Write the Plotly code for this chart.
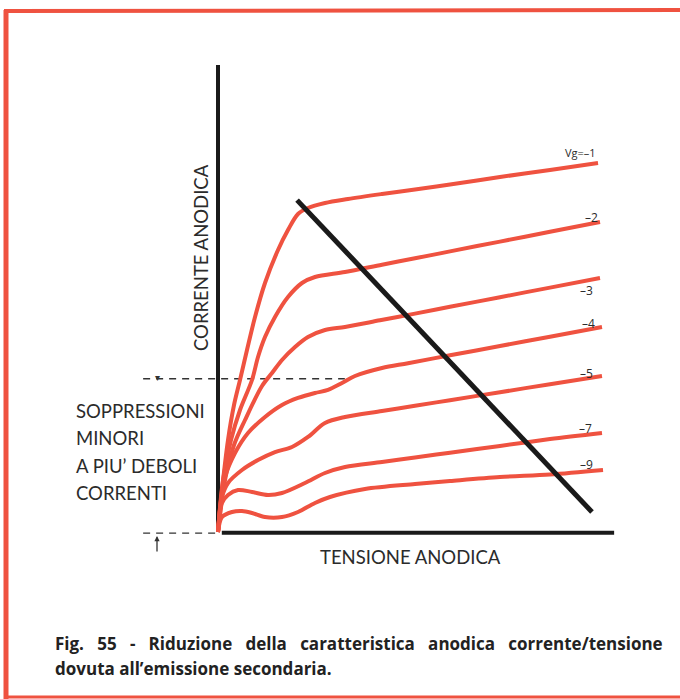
import plotly.graph_objects as go

# ---- data (anode voltage in % of full scale, anode current in arbitrary units) ----
vg_labels = ["Vg=–1", "–2", "–3", "–4", "–5", "–7", "–9"]

v_m1 = [0, 1.05, 2.62, 4.19, 5.76, 7.59, 9.69, 12.30, 15.71, 18.32, 20.94, 23.56, 28.01, 34.03, 42.93, 51.57, 60.73, 73.82, 86.91, 99.48]
i_m1 = [0, 11.35, 24.86, 34.32, 41.08, 49.19, 58.11, 67.30, 76.22, 81.62, 85.95, 87.57, 88.92, 90.0, 91.35, 92.57, 93.92, 95.95, 97.84, 99.73]

v_m2 = [0, 1.31, 3.40, 5.76, 8.90, 10.47, 12.30, 14.92, 18.32, 21.99, 25.39, 33.25, 42.93, 51.57, 60.73, 73.82, 86.91, 100]
i_m2 = [0, 14.05, 24.86, 32.97, 41.08, 47.30, 52.70, 58.11, 63.51, 67.30, 68.92, 70.27, 72.24, 73.97, 75.84, 78.49, 81.14, 83.78]

v_m3 = [0, 1.57, 4.19, 7.07, 11.52, 14.14, 16.75, 20.16, 23.56, 28.01, 33.25, 42.41, 51.57, 60.73, 73.82, 86.91, 100]
i_m3 = [0, 12.70, 23.51, 30.27, 39.46, 42.97, 46.49, 50.0, 52.70, 54.59, 55.41, 57.22, 59.03, 60.86, 63.46, 66.05, 68.65]

v_m4 = [0, 0.79, 1.83, 4.45, 7.85, 12.30, 16.75, 20.94, 25.39, 28.80, 32.46, 35.86, 42.93, 49.74, 60.73, 73.82, 86.91, 100.52]
i_m4 = [0, 8.65, 14.86, 21.35, 26.76, 31.08, 34.32, 36.22, 37.57, 38.38, 40.27, 42.16, 44.32, 45.62, 47.76, 50.27, 52.78, 55.41]

v_m5 = [0, 1.05, 2.62, 6.28, 10.47, 14.92, 19.37, 23.56, 28.01, 33.25, 42.93, 51.57, 60.73, 73.82, 86.91, 100.52]
i_m5 = [0, 9.46, 13.24, 16.76, 19.46, 21.62, 22.97, 25.68, 29.46, 31.08, 32.70, 34.11, 35.62, 37.78, 39.95, 42.16]

v_m7 = [0, 0.52, 1.05, 2.62, 5.24, 8.90, 13.09, 16.75, 22.77, 28.01, 33.25, 42.93, 51.57, 60.73, 73.82, 86.91, 100.52]
i_m7 = [0, 4.59, 7.84, 10.0, 11.35, 10.81, 10.0, 10.54, 13.24, 15.95, 17.57, 18.92, 20.14, 21.43, 23.27, 25.11, 26.76]

v_m9 = [0, 1.05, 3.66, 6.28, 8.90, 12.30, 16.75, 20.94, 25.39, 29.32, 38.48, 51.57, 60.73, 73.82, 86.91, 100.79]
i_m9 = [0, 4.05, 5.41, 5.68, 5.14, 4.05, 4.05, 5.41, 7.84, 9.46, 11.62, 12.97, 13.78, 14.86, 15.54, 16.76]

curves_v = [v_m1, v_m2, v_m3, v_m4, v_m5, v_m7, v_m9]
curves_i = [i_m1, i_m2, i_m3, i_m4, i_m5, i_m7, i_m9]

# load line end points (voltage, current)
load_v = [20.7, 97.9]
load_i = [89.7, 5.4]

# level of the "minor suppression" limit
limit_i = 41.4
limit_v_end = 33.2

RED = "#ef5240"
INK = "#1a1a1a"
TXT = "#2b2b2b"

W, H = 680, 699
# map: px = 218 + 3.82*v ; py = 532 - 3.7*i
XR = [-218 / 3.82, (W - 218) / 3.82]
YR = [(532 - H) / 3.7, 532 / 3.7]

fig = go.Figure()

# axes drawn as thick lines
fig.add_trace(go.Scatter(x=[0, 0], y=[0, 126.2], mode="lines",
                         line=dict(color=INK, width=4), hoverinfo="skip"))
fig.add_trace(go.Scatter(x=[1.0, 103.7], y=[-0.2, -0.2], mode="lines",
                         line=dict(color=INK, width=4), hoverinfo="skip"))

# dashed limit lines
fig.add_trace(go.Scatter(x=[-19.6, limit_v_end], y=[limit_i, limit_i], mode="lines",
                         line=dict(color="#333333", width=1.4, dash="7px,6px"), hoverinfo="skip"))
fig.add_trace(go.Scatter(x=[-19.6, 0], y=[-0.3, -0.3], mode="lines",
                         line=dict(color="#333333", width=1.4, dash="7px,6px"), hoverinfo="skip"))

# characteristic curves
for v, i in zip(curves_v, curves_i):
    fig.add_trace(go.Scatter(x=v, y=i, mode="lines", line_shape="spline",
                             line=dict(color=RED, width=4, smoothing=0.9), hoverinfo="skip"))

# load line
fig.add_trace(go.Scatter(x=load_v, y=load_i, mode="lines",
                         line=dict(color=INK, width=5), hoverinfo="skip"))

def px(x):
    return x / W

def py(y):
    return 1 - y / H

def note(x, y, text, size, family="Lato", xanchor="center", color=TXT, **kw):
    return dict(x=px(x), y=py(y), xref="paper", yref="paper", text=text,
                xanchor=xanchor, yanchor="middle", showarrow=False,
                font=dict(family=family, size=size, color=color), **kw)

ann = []
# curve labels near right end
label_pos = [(580, 152), (591, 218), (586, 290), (588, 323), (586, 373), (585, 428), (586, 464)]
for k, (lab, (lx, ly)) in enumerate(zip(vg_labels, label_pos)):
    ann.append(note(lx, ly, lab, 11 if k == 0 else 12, family="Open Sans"))

ann.append(note(201, 258, "CORRENTE ANODICA", 18.5, textangle=-90))
ann.append(note(410, 557, "TENSIONE ANODICA", 18.5))

for txt, yy in [("SOPPRESSIONI", 411), ("MINORI", 438), ("A PIU’ DEBOLI", 466), ("CORRENTI", 493)]:
    ann.append(note(74, yy, txt, 18.5, xanchor="left"))

G = " \u00a0\u00a0"
line1 = G.join(["Fig.", "55", "-", "Riduzione", "della", "caratteristica", "anodica", "corrente/tensione"])
ann.append(note(53, 643, "<b>" + line1 + "</b>", 17, family="Open Sans", xanchor="left", color="#222222"))
ann.append(note(53, 668, "<b>dovuta all’emissione secondaria.</b>", 17, family="Open Sans",
                xanchor="left", color="#222222"))

# small markers on the left
ann.append(note(157, 377, "▾", 10, family="DejaVu Sans", color="#333333"))
ann.append(dict(x=px(157), y=py(536), xref="paper", yref="paper",
                axref="pixel", ayref="pixel", ax=0, ay=17, text="", showarrow=True, arrowhead=2,
                arrowsize=0.8, arrowwidth=1.3, arrowcolor="#333333"))

shapes = [
    dict(type="line", xref="paper", yref="paper", x0=px(4), x1=1, y0=py(11), y1=py(10),
         line=dict(color=RED, width=4)),
    dict(type="line", xref="paper", yref="paper", x0=px(6), x1=px(6), y0=py(10), y1=py(699),
         line=dict(color=RED, width=5)),
    dict(type="line", xref="paper", yref="paper", x0=px(6), x1=1, y0=py(697), y1=py(697),
         line=dict(color=RED, width=3)),
]

fig.update_layout(
    width=W, height=H,
    margin=dict(l=0, r=0, t=0, b=0),
    paper_bgcolor="white", plot_bgcolor="white",
    showlegend=False,
    xaxis=dict(range=XR, visible=False, fixedrange=True),
    yaxis=dict(range=YR, visible=False, fixedrange=True),
    annotations=ann, shapes=shapes,
)

fig.write_html("out.html", config={"displayModeBar": False},
               post_script="document.body.style.margin='0';document.body.style.overflow='hidden';")
